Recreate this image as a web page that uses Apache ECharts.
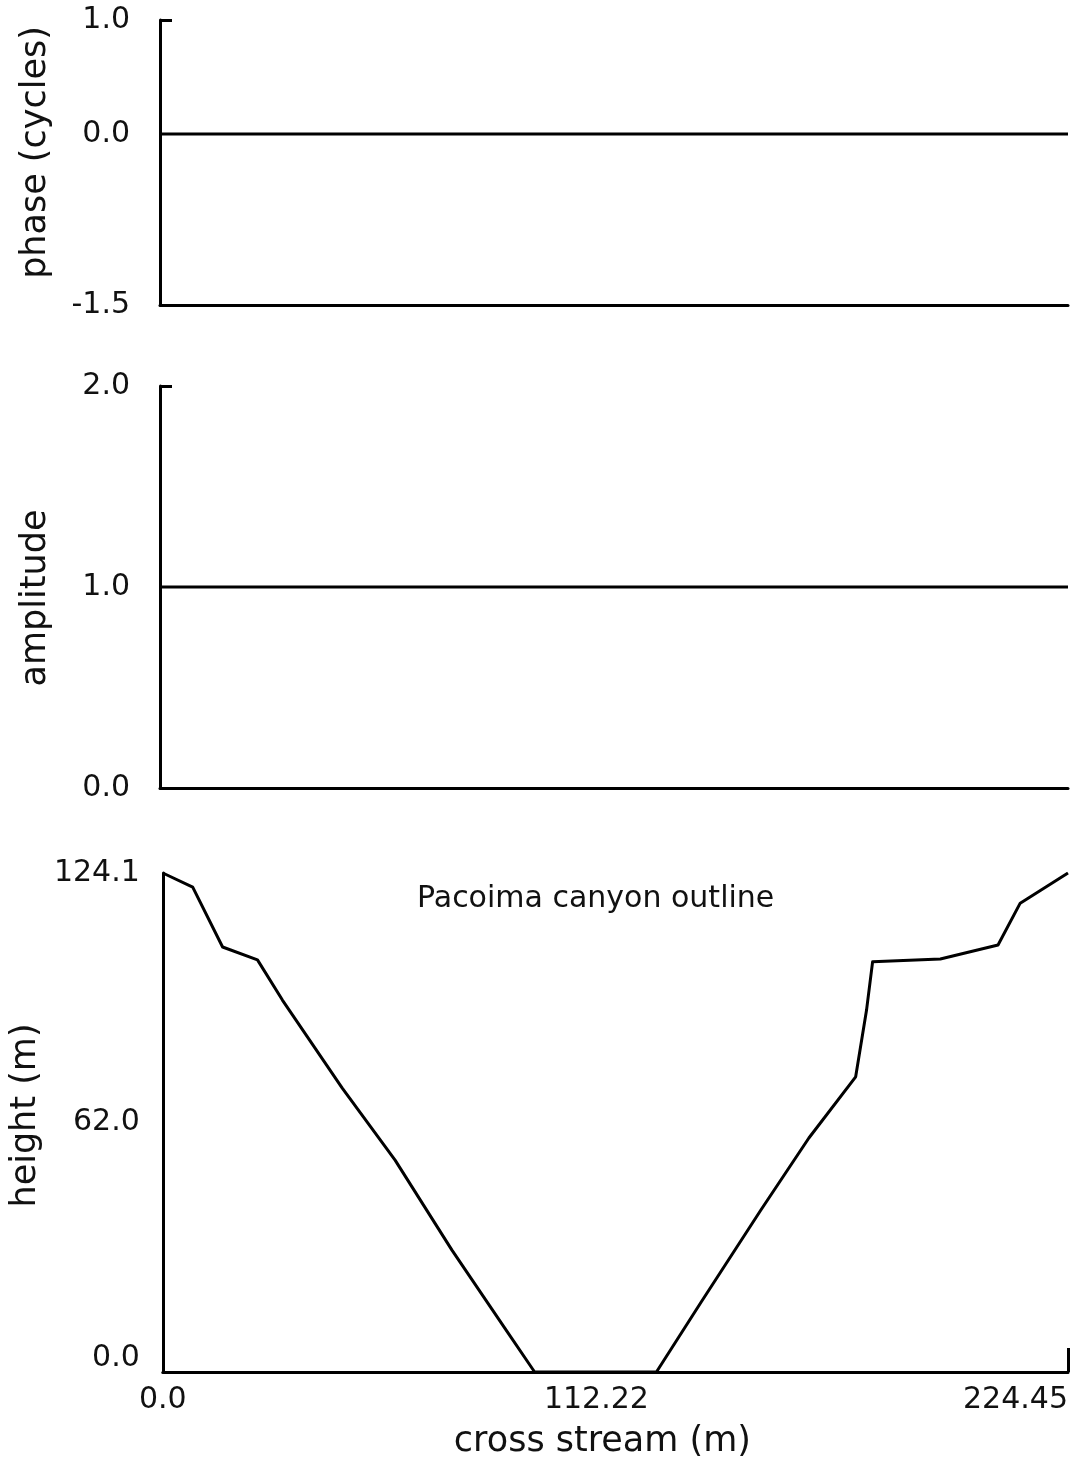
<!DOCTYPE html>
<html>
<head>
<meta charset="utf-8">
<script src="https://cdn.jsdelivr.net/npm/echarts@6/dist/echarts.min.js"></script>
<style>
html,body{margin:0;padding:0;background:#fff;}
#chart{width:1074px;height:1464px;}
</style>
</head>
<body>
<div id="chart"></div>
<script>
// ---- data ----
const xRange = [0, 224.45];
const phaseX = [0, 224.45];
const phaseVals = [0.0, 0.0];
const ampX = [0, 224.45];
const ampVals = [1.0, 1.0];
const crossStream = [0, 7.42, 14.83, 23.48, 29.66, 44.5, 57.6, 71.7, 84.8, 92.2, 122.4, 133.5, 148.3, 160.2, 171.8, 174.5, 176.0, 192.8, 207.1, 212.6, 224.45];
const canyonHeight = [124.1, 120.6, 105.7, 102.5, 92.5, 70.6, 52.7, 30.3, 10.9, 0, 0, 17.4, 40.3, 58.2, 73.4, 90.0, 102.0, 102.7, 106.2, 116.6, 124.1];
const phaseTicks = [-1.5, 0.0, 1.0];
const ampTicks = [0.0, 1.0, 2.0];
const heightTicks = [0.0, 62.0, 124.1];
const xTicks = [0, 112.22, 224.45];
const xTickLabels = ['0.0', '112.22', '224.45'];

const FONT = 'DejaVu Sans';
const INK = '#000';
const TICK_SIZE = 30;
const labelStyle = {fontFamily: FONT, fontSize: TICK_SIZE, color: '#111'};
const nameStyle = {fontFamily: FONT, fontSize: 35, color: '#111'};
const axisLine = {show: true, onZero: false, lineStyle: {color: INK, width: 3}};

function pairs(xs, ys) { return xs.map((x, i) => [x, ys[i]]); }

function hiddenX(grid) {
  return {
    gridIndex: grid, type: 'value', min: xRange[0], max: xRange[1],
    axisLine: axisLine, axisTick: {show: false}, axisLabel: {show: false},
    splitLine: {show: false}
  };
}

const chart = echarts.init(document.getElementById('chart'), null, {renderer: 'canvas'});
chart.setOption({
  backgroundColor: '#fff',
  animation: false,
  title: {
    text: 'Pacoima canyon outline', left: 412, top: 879,
    textStyle: {fontFamily: FONT, fontSize: 30, fontWeight: 'normal', color: '#111'}
  },
  grid: [
    {left: 160, right: 6, top: 20, height: 285},
    {left: 160, right: 6, top: 386, height: 402},
    {left: 160, right: 6, top: 873, height: 499}
  ],
  xAxis: [
    hiddenX(0),
    hiddenX(1),
    {
      gridIndex: 2, type: 'value', min: xRange[0], max: xRange[1],
      axisLine: axisLine,
      axisTick: {show: true, inside: true, length: 24, customValues: [xTicks[2]], lineStyle: {color: INK, width: 3}},
      axisLabel: Object.assign({}, labelStyle, {
        customValues: xTicks, margin: 13,
        alignMinLabel: 'center', alignMaxLabel: 'right',
        formatter: function (v) {
          const i = xTicks.indexOf(v);
          const t = i >= 0 ? xTickLabels[i] : String(v);
          return i === 1 ? '{m|' + t + '}' : t;
        },
        rich: {m: {fontFamily: FONT, fontSize: TICK_SIZE, color: '#111', padding: [0, 38, 0, 0]}}
      }),
      splitLine: {show: false},
      name: 'cross stream (m)', nameLocation: 'middle', nameGap: 52,
      nameTextStyle: Object.assign({}, nameStyle, {padding: [0, 26, 0, 0]})
    }
  ],
  yAxis: [
    {
      gridIndex: 0, type: 'value', min: -1.5, max: 1.0,
      axisLine: axisLine,
      axisTick: {show: true, inside: true, length: 12, customValues: [1.0], lineStyle: {color: INK, width: 3}},
      axisLabel: Object.assign({}, labelStyle, {customValues: phaseTicks, margin: 30, formatter: v => v.toFixed(1)}),
      splitLine: {show: false},
      name: 'phase (cycles)', nameLocation: 'middle', nameGap: 107, nameRotate: 90,
      nameTextStyle: Object.assign({}, nameStyle, {padding: [0, 0, 0, 20]})
    },
    {
      gridIndex: 1, type: 'value', min: 0, max: 2.0,
      axisLine: axisLine,
      axisTick: {show: true, inside: true, length: 12, customValues: [2.0], lineStyle: {color: INK, width: 3}},
      axisLabel: Object.assign({}, labelStyle, {customValues: ampTicks, margin: 30, formatter: v => v.toFixed(1)}),
      splitLine: {show: false},
      name: 'amplitude', nameLocation: 'middle', nameGap: 107, nameRotate: 90,
      nameTextStyle: Object.assign({}, nameStyle, {padding: [0, 22, 0, 0]})
    },
    {
      gridIndex: 2, type: 'value', min: 0, max: 124.1,
      axisLine: axisLine,
      axisTick: {show: false},
      axisLabel: Object.assign({}, labelStyle, {
        customValues: heightTicks, margin: 23,
        formatter: v => v === 0 ? '{z|0.0}' : v.toFixed(1),
        rich: {z: {fontFamily: FONT, fontSize: TICK_SIZE, color: '#111', padding: [0, 0, 28, 0]}}
      }),
      splitLine: {show: false},
      name: 'height (m)', nameLocation: 'middle', nameGap: 107, nameRotate: 90,
      nameTextStyle: Object.assign({}, nameStyle, {padding: [0, 0, 0, 14]})
    }
  ],
  series: [
    {type: 'line', xAxisIndex: 0, yAxisIndex: 0, data: pairs(phaseX, phaseVals), symbol: 'none',
     lineStyle: {color: INK, width: 3}},
    {type: 'line', xAxisIndex: 1, yAxisIndex: 1, data: pairs(ampX, ampVals), symbol: 'none',
     lineStyle: {color: INK, width: 3}},
    {type: 'line', xAxisIndex: 2, yAxisIndex: 2, data: pairs(crossStream, canyonHeight), symbol: 'none',
     lineStyle: {color: INK, width: 3, join: 'round'}}
  ]
});
</script>
</body>
</html>
